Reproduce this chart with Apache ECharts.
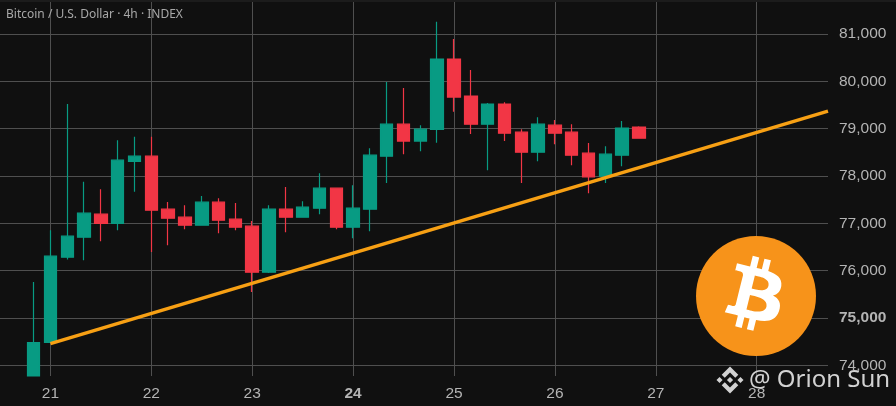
<!DOCTYPE html>
<html>
<head>
<meta charset="utf-8">
<style>html,body{margin:0;padding:0;background:#101010}#c{width:896px;height:406px}</style>
<script src="https://cdn.jsdelivr.net/npm/echarts@6/dist/echarts.min.js"></script>
</head>
<body>
<div id="c"></div>
<script>
// Values: [open, close, low, high], one candle every 4 hours
// (the first candle is cut off by the bottom of the plot, so its open and low are the visible edge)
const candles = [
  [73774,74480,73774,75761],[74486,76305,74480,76855],[76284,76728,76235,79519],[76707,77214,76220,77876],
  [77193,76996,76622,77722],[76996,78335,76855,78758],[78307,78420,77665,78828],[78420,77278,76396,78828],
  [77299,77108,76538,77453],[77130,76960,76876,77383],[76960,77447,76950,77580],[77447,77066,76790,77530],
  [77087,76918,76855,77432],[76939,75966,75550,77051],[75966,77299,75950,77383],[77299,77130,76812,77770],
  [77130,77341,77120,77468],[77320,77743,77193,78060],[77743,76918,76876,77750],[76918,77320,76686,77806],
  [77299,78440,76834,78589],[78420,79096,77850,79985],[79096,78737,78462,79857],[78737,78990,78525,79075],
  [78984,80471,78701,81260],[80471,79667,79356,80894],[79688,79096,78885,80238],[79096,79519,78124,79540],
  [79519,78906,78737,79560],[78927,78504,77850,78990],[78504,79096,78314,79244],[79075,78906,78673,79181],
  [78927,78440,78229,79096],[78483,77982,77637,78695],[77997,78462,77850,78631],[78440,79012,78208,79160],
  [79033,78800,78790,79050]
];
const firstCandleDay = 20 + 5/6;
const candlesPerDay = 6;
const trendline = [[21, 74459], [28.707, 79371]];
const dayLabels = [21,22,23,24,25,26,27,28];
const priceLabels = [74000,75000,76000,77000,78000,79000,80000,81000];
const boldDay = 24, boldPrice = 75000;
const titleText = 'Bitcoin / U.S. Dollar · 4h · INDEX';
const watermarkText = '@ Orion Sun';

const UP='#089b83', DOWN='#f23645', GRID='#4f4f4f', LABEL='#b4b4b4';
const seriesData = candles.map((c,i)=>[firstCandleDay + i/candlesPerDay, c[0], c[1], c[2], c[3]]);
const BTC='M46.103 27.444c.637-4.258-2.605-6.547-7.038-8.074l1.438-5.768-3.511-.875-1.4 5.616c-.923-.23-1.871-.447-2.813-.662l1.41-5.653-3.509-.875-1.439 5.766c-.764-.174-1.514-.346-2.242-.527l.004-.018-4.842-1.209-.934 3.75s2.605.597 2.55.634c1.422.355 1.679 1.296 1.636 2.042l-1.638 6.571c.098.025.225.061.365.117l-.371-.092-2.296 9.205c-.174.432-.615 1.08-1.609.834.035.051-2.552-.637-2.552-.637l-1.743 4.019 4.569 1.139c.85.213 1.683.436 2.503.646l-1.453 5.834 3.507.875 1.439-5.772c.958.26 1.888.5 2.798.726l-1.434 5.745 3.511.875 1.453-5.823c5.987 1.133 10.489.676 12.384-4.739 1.527-4.36-.076-6.875-3.226-8.515 2.294-.529 4.022-2.038 4.483-5.155zM38.08 38.693c-1.085 4.36-8.426 2.003-10.806 1.412l1.928-7.729c2.38.594 10.012 1.77 8.878 6.317zm1.086-11.312c-.99 3.966-7.1 1.951-9.082 1.457l1.748-7.01c1.982.494 8.365 1.416 7.334 5.553z';
const BNB='M9.785 13.445L16 7.23l6.217 6.217 3.616-3.616L16 0 6.169 9.831l3.616 3.614zM0 16l3.616-3.616L7.23 16l-3.615 3.616zm9.785 2.555L16 24.77l6.217-6.217 3.617 3.615-.002.002L16 32l-9.83-9.83-.006-.005 3.621-3.61zM24.77 16l3.616-3.616L32 16l-3.616 3.616zm-5.104-.002h.002V16L16 19.668l-3.664-3.664-.006-.006.006-.005.642-.642.311-.311L16 12.332l3.668 3.668z';
echarts.graphic.registerShape('btcGlyph', echarts.graphic.extendPath(BTC, {}));
echarts.graphic.registerShape('bnbGlyph', echarts.graphic.extendPath(BNB, {}));

const chart = echarts.init(document.getElementById('c'), null, {renderer:'canvas'});
chart.setOption({
  animation:false,
  backgroundColor:'#101010',
  title:{text:titleText,left:6,top:9,padding:0,textStyle:{color:'#a8a8a8',fontSize:12,fontWeight:'normal',fontFamily:'"Noto Sans"'}},
  grid:{left:0,right:68,top:0,bottom:30},
  xAxis:{type:'value',min:20.5,max:28.707,
    axisLine:{show:false},axisTick:{show:false,customValues:dayLabels},
    splitLine:{show:true,lineStyle:{color:GRID,width:1}},
    axisLabel:{customValues:dayLabels,color:LABEL,fontSize:15.5,margin:10,fontFamily:'"Liberation Sans"',
      formatter:v=>v===boldDay?`{b|${v}}`:String(v),
      rich:{b:{fontWeight:'bold',fontSize:15.5,color:LABEL,fontFamily:'"Liberation Sans"'}}}},
  yAxis:{type:'value',position:'right',min:73774,max:81719,
    axisLine:{show:false},axisTick:{show:false,customValues:priceLabels},
    splitLine:{show:true,lineStyle:{color:GRID,width:1}},
    axisLabel:{customValues:priceLabels,color:LABEL,fontSize:15.5,margin:11,fontFamily:'"Liberation Sans"',
      formatter:v=>{ const s=v.toLocaleString('en-US'); return v===boldPrice?`{b|${s}}`:s; },
      rich:{b:{fontWeight:'bold',fontSize:15.5,color:LABEL,fontFamily:'"Liberation Sans"'}}}},
  series:[
    {type:'candlestick',data:seriesData,barWidth:13,encode:{x:0,y:[1,2,3,4]},z:3,
     itemStyle:{color:UP,color0:DOWN,borderColor:UP,borderColor0:DOWN,borderWidth:1.2}},
    {type:'line',data:trendline,symbol:'none',lineStyle:{color:'#f7a014',width:3.5},z:5}
  ],
  graphic:[
    {type:'rect',x:0,y:0,shape:{width:896,height:2},style:{fill:'#1c1c1c'},z:50},
    {type:'circle',shape:{cx:756,cy:296,r:60},style:{fill:'#f7931a'},z:100},
    {type:'btcGlyph',x:696,y:235.2,scaleX:1.85,scaleY:1.85,style:{fill:'#fff'},z:101},
    {type:'bnbGlyph',x:716.5,y:366.5,scaleX:0.844,scaleY:0.844,style:{fill:'#d2d2d2'},z:101},
    {type:'text',x:749,y:380,z:102,style:{text:watermarkText,fill:'#d2d2d2',font:'24px "Noto Sans"',textAlign:'left',textVerticalAlign:'middle'}}
  ]
});
</script>
</body>
</html>
